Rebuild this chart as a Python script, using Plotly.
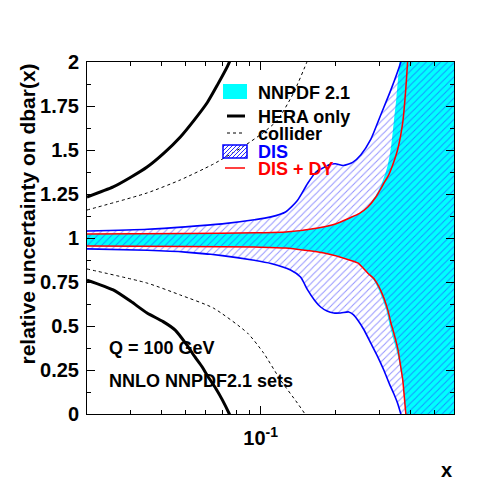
import plotly.graph_objects as go

# ---------------- data ----------------
# HERA only (thick black)
hera_up_x = [0.02, 0.0255, 0.03, 0.0349, 0.041, 0.0475, 0.054, 0.061, 0.067, 0.0735, 0.078]
hera_up_y = [1.233, 1.29, 1.345, 1.403, 1.485, 1.574, 1.67, 1.77, 1.87, 1.975, 2.06]
hera_lo_x = [0.02, 0.0255, 0.03, 0.0349, 0.0405, 0.0453, 0.05, 0.0544, 0.058, 0.0615, 0.066, 0.0701, 0.0748, 0.078]
hera_lo_y = [0.761, 0.705, 0.64, 0.574, 0.525, 0.477, 0.40, 0.324, 0.27, 0.21, 0.145, 0.08, 0.0, -0.06]

# collider (dotted black)
coll_up_x = [0.02, 0.0349, 0.0475, 0.0645, 0.0852, 0.1027, 0.1169, 0.1356, 0.1545, 0.16]
coll_up_y = [1.159, 1.256, 1.33, 1.42, 1.52, 1.60, 1.67, 1.824, 2.01, 2.07]
coll_lo_x = [0.02, 0.0349, 0.0475, 0.0645, 0.0885, 0.1027, 0.1202, 0.1405, 0.1516, 0.156]
coll_lo_y = [0.824, 0.744, 0.676, 0.602, 0.46, 0.347, 0.193, 0.0625, -0.006, -0.05]

# DIS (blue hatched band)
dis_up_x = [0.02, 0.035, 0.0497, 0.07, 0.0927, 0.11, 0.1259, 0.14, 0.1545, 0.167, 0.1793, 0.19,
            0.2, 0.215, 0.2346, 0.2528, 0.2774, 0.3044, 0.334, 0.3666, 0.385, 0.65]
dis_up_y = [1.040, 1.05, 1.063, 1.08, 1.102, 1.12, 1.148, 1.21, 1.31, 1.375, 1.40, 1.418,
            1.422, 1.412, 1.43, 1.472, 1.56, 1.70, 1.84, 2.0, 2.12, 3.0]
dis_lo_x = [0.02, 0.035, 0.0497, 0.07, 0.0927, 0.11, 0.1319, 0.1447, 0.1545, 0.165, 0.1743, 0.185,
            0.1967, 0.21, 0.2261, 0.236, 0.2458, 0.26, 0.2774, 0.296, 0.313, 0.33, 0.3435, 0.356,
            0.3666, 0.375, 0.65]
dis_lo_y = [0.938, 0.93, 0.920, 0.90, 0.875, 0.855, 0.818, 0.778, 0.705, 0.645, 0.608, 0.585,
            0.574, 0.574, 0.580, 0.565, 0.534, 0.48, 0.403, 0.325, 0.25, 0.17, 0.115, 0.06,
            0.0, -0.05, -1.0]

# DIS + DY (red lines)
dy_up_x = [0.02, 0.05, 0.1, 0.126, 0.17, 0.2, 0.228, 0.25, 0.27, 0.29, 0.313, 0.328, 0.343,
           0.357, 0.3734, 0.384, 0.391, 0.396]
dy_up_y = [1.023, 1.025, 1.03, 1.034, 1.057, 1.08, 1.114, 1.14, 1.176, 1.23, 1.31, 1.36, 1.43,
           1.51, 1.66, 1.85, 2.02, 2.15]
dy_lo_x = [0.02, 0.05, 0.1, 0.126, 0.18, 0.2277, 0.246, 0.27, 0.2852, 0.3, 0.313, 0.325, 0.334,
           0.345, 0.3565, 0.367, 0.3734, 0.379, 0.384, 0.388]
dy_lo_y = [0.955, 0.952, 0.948, 0.943, 0.915, 0.875, 0.858, 0.80, 0.77, 0.72, 0.66, 0.59, 0.52,
           0.45, 0.37, 0.26, 0.19, 0.09, 0.0, -0.06]

# NNPDF 2.1 (cyan band)
nn_up_x = [0.02, 0.05, 0.1, 0.126, 0.17, 0.2, 0.228, 0.25, 0.27, 0.29, 0.305, 0.318, 0.3248,
           0.335, 0.3435, 0.352, 0.362, 0.37, 0.65]
nn_up_y = [1.023, 1.025, 1.03, 1.034, 1.057, 1.08, 1.114, 1.14, 1.18, 1.24, 1.30, 1.37, 1.415,
           1.52, 1.66, 1.80, 2.0, 2.15, 3.0]
nn_lo_x = [0.02, 0.05, 0.1, 0.126, 0.18, 0.2277, 0.246, 0.27, 0.2852, 0.3, 0.3188, 0.334,
           0.3565, 0.3734, 0.384, 0.388, 0.65]
nn_lo_y = [0.955, 0.952, 0.948, 0.943, 0.915, 0.875, 0.858, 0.80, 0.76, 0.70, 0.60, 0.48,
           0.33, 0.18, 0.0, -0.06, -1.0]

# axis ticks
y_tickvals = [0, 0.25, 0.5, 0.75, 1, 1.25, 1.5, 1.75, 2]
y_ticktext = ["0", "0.25", "0.5", "0.75", "1", "1.25", "1.5", "1.75", "2"]
x_tickvals = [0.1]
x_ticktext = ["10<sup>-1</sup>"]
x_minor = [0.03, 0.04, 0.05, 0.06, 0.07, 0.08, 0.09, 0.2, 0.3, 0.4, 0.5]

legend_labels = ["NNPDF 2.1", "HERA only", "collider", "DIS", "DIS + DY"]
label_q = "Q = 100 GeV"
label_sets = "NNLO NNPDF2.1 sets"

# ---------------- layout geometry (page pixels; page body has an 8px margin) ----------------
OFF = 8
W, H = 504 - OFF, 504 - OFF
PL, PR, PT, PB = 87, 454, 62, 414          # plot area in page pixels
L, T = PL - OFF, PT - OFF
PW, PH = PR - PL, PB - PT
R, B = W - L - PW, H - T - PH
FONT = "Liberation Sans, Arial, sans-serif"
CYAN = "rgb(0,255,255)"
BLUE = "rgb(0,0,255)"
RED = "rgb(255,0,0)"


def pxx(p):
    return (p - PL) / PW


def pxy(p):
    return (PB - p) / PH


fig = go.Figure()
SM = 0.6

# NNPDF 2.1 cyan band
fig.add_trace(go.Scatter(x=nn_lo_x, y=nn_lo_y, mode="lines", line=dict(width=0, shape="spline", smoothing=SM),
                         hoverinfo="skip", showlegend=False))
fig.add_trace(go.Scatter(x=nn_up_x, y=nn_up_y, mode="lines", line=dict(width=0, shape="spline", smoothing=SM),
                         fill="tonexty", fillcolor=CYAN, hoverinfo="skip", showlegend=False))

# DIS hatched band
fig.add_trace(go.Scatter(x=dis_lo_x, y=dis_lo_y, mode="lines",
                         line=dict(width=1.6, color=BLUE, shape="spline", smoothing=SM),
                         hoverinfo="skip", showlegend=False))
fig.add_trace(go.Scatter(x=dis_up_x, y=dis_up_y, mode="lines",
                         line=dict(width=1.6, color=BLUE, shape="spline", smoothing=SM),
                         fill="tonexty", fillcolor="rgba(0,0,0,0)",
                         fillpattern=dict(shape="/", fgcolor="rgb(40,40,255)", bgcolor="rgba(0,0,0,0)",
                                          size=5, solidity=0.2),
                         hoverinfo="skip", showlegend=False))

# DIS + DY red lines
for xs, ys in [(dy_up_x, dy_up_y), (dy_lo_x, dy_lo_y)]:
    fig.add_trace(go.Scatter(x=xs, y=ys, mode="lines",
                             line=dict(width=1.5, color=RED, shape="spline", smoothing=SM),
                             hoverinfo="skip", showlegend=False))

# HERA only
for xs, ys in [(hera_up_x, hera_up_y), (hera_lo_x, hera_lo_y)]:
    fig.add_trace(go.Scatter(x=xs, y=ys, mode="lines",
                             line=dict(width=3, color="black", shape="spline", smoothing=SM),
                             hoverinfo="skip", showlegend=False))

# collider
for xs, ys in [(coll_up_x, coll_up_y), (coll_lo_x, coll_lo_y)]:
    fig.add_trace(go.Scatter(x=xs, y=ys, mode="lines",
                             line=dict(width=1, color="black", dash="dot", shape="spline", smoothing=SM),
                             hoverinfo="skip", showlegend=False))

# ---------------- manual legend ----------------
shapes = []
annos = []
shapes.append(dict(type="rect", xref="paper", yref="paper", x0=pxx(223), x1=pxx(247), y0=pxy(99), y1=pxy(84),
                   fillcolor=CYAN, line=dict(width=0), layer="above"))
shapes.append(dict(type="line", xref="paper", yref="paper", x0=pxx(227), x1=pxx(245), y0=pxy(116), y1=pxy(116),
                   line=dict(color="black", width=3), layer="above"))
shapes.append(dict(type="line", xref="paper", yref="paper", x0=pxx(227), x1=pxx(245), y0=pxy(133), y1=pxy(133),
                   line=dict(color="black", width=1, dash="dot"), layer="above"))
bx0, bx1, by0, by1 = 223, 247, 145, 158
path = ""
c = bx0 + by0 + 2
while c < bx1 + by1:
    xa = max(bx0, c - by1)
    xb = min(bx1, c - by0)
    path += "M{:.4f},{:.4f} L{:.4f},{:.4f} ".format(pxx(xa), pxy(c - xa), pxx(xb), pxy(c - xb))
    c += 4
shapes.append(dict(type="path", xref="paper", yref="paper", path=path,
                   line=dict(color="rgb(40,40,255)", width=1), layer="above"))
shapes.append(dict(type="rect", xref="paper", yref="paper", x0=pxx(bx0), x1=pxx(bx1), y0=pxy(by1), y1=pxy(by0),
                   fillcolor="rgba(0,0,0,0)", line=dict(color=BLUE, width=1.5), layer="above"))
shapes.append(dict(type="line", xref="paper", yref="paper", x0=pxx(225), x1=pxx(245), y0=pxy(168), y1=pxy(168),
                   line=dict(color=RED, width=1.5), layer="above"))

leg_y = [92, 116, 133, 151, 168]
leg_col = ["black", "black", "black", BLUE, RED]
for lab, yy, col in zip(legend_labels, leg_y, leg_col):
    annos.append(dict(text=lab, xref="paper", yref="paper", x=pxx(256), y=pxy(yy + 1), xanchor="left",
                      yanchor="middle", showarrow=False,
                      font=dict(family=FONT, size=18, color=col, weight="bold")))

annos.append(dict(text=label_q, xref="paper", yref="paper", x=pxx(107), y=pxy(348), xanchor="left",
                  yanchor="middle", showarrow=False, font=dict(family=FONT, size=18, color="black", weight="bold")))
annos.append(dict(text=label_sets, xref="paper", yref="paper", x=pxx(107), y=pxy(381), xanchor="left",
                  yanchor="middle", showarrow=False, font=dict(family=FONT, size=18, color="black", weight="bold")))
annos.append(dict(text="relative uncertainty on dbar(x)", xref="paper", yref="paper", x=pxx(27), y=pxy(62),
                  xanchor="center", yanchor="top", textangle=-90, showarrow=False,
                  font=dict(family=FONT, size=21, color="black", weight="bold")))
annos.append(dict(text="x", xref="paper", yref="paper", x=pxx(454), y=pxy(470), xanchor="right",
                  yanchor="middle", showarrow=False, font=dict(family=FONT, size=20, color="black", weight="bold")))

fig.update_layout(
    width=W, height=H, margin=dict(l=L, r=R, t=T, b=B, autoexpand=False),
    paper_bgcolor="white", plot_bgcolor="white",
    shapes=shapes, annotations=annos, showlegend=False,
    xaxis=dict(type="log", range=[-1.69897, -0.221849], showgrid=False, zeroline=False,
               showline=True, linecolor="black", linewidth=1, mirror="ticks",
               ticks="inside", ticklen=8, tickwidth=1, tickcolor="black",
               tickmode="array", tickvals=x_tickvals, ticktext=x_ticktext,
               tickfont=dict(family=FONT, size=20, color="black", weight="bold"),
               ticklabelstandoff=6,
               minor=dict(tickmode="array", tickvals=x_minor, ticks="inside", ticklen=4,
                          tickwidth=1, tickcolor="black", showgrid=False)),
    yaxis=dict(range=[0, 2], showgrid=False, zeroline=False,
               showline=True, linecolor="black", linewidth=1, mirror="ticks",
               ticks="inside", ticklen=8, tickwidth=1, tickcolor="black",
               tickmode="array", tickvals=y_tickvals, ticktext=y_ticktext,
               tickfont=dict(family=FONT, size=20, color="black", weight="bold"),
               ticklabelstandoff=3,
               minor=dict(dtick=0.125, tick0=0, ticks="inside", ticklen=4, tickwidth=1,
                          tickcolor="black", showgrid=False)),
)

fig.write_html("out.html")
